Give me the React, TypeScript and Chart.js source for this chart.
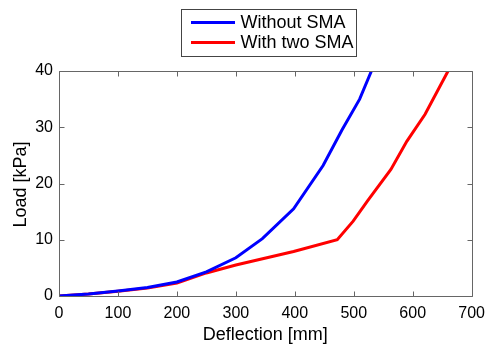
import React, { useEffect, useRef } from "react";
import { Chart, registerables } from "chart.js";
Chart.register(...registerables);

const seriesNames = ["Without SMA", "With two SMA"];
const seriesColors = ["#0000FF", "#FF0000"];
const withoutX = [0, 50, 100, 150, 200, 250, 300, 345, 398, 448, 480, 510, 530];
const withoutY = [0, 0.35, 0.9, 1.5, 2.5, 4.3, 6.8, 10.2, 15.5, 23.2, 29.5, 35, 40];
const withX = [0, 50, 100, 150, 200, 250, 300, 398, 472, 499, 524, 563, 590, 621, 660];
const withY = [0, 0.35, 0.85, 1.4, 2.3, 4.1, 5.5, 7.9, 10, 13.3, 17, 22.5, 27.5, 32.3, 40];
const xTicks = [0, 100, 200, 300, 400, 500, 600, 700];
const yTicks = [0, 10, 20, 30, 40];
const xTitle = "Deflection [mm]";
const yTitle = "Load [kPa]";

const FONT = "'Liberation Sans', Arial, sans-serif";

const framePlugin = {
  id: "frame",
  afterDraw(chart: any) {
    const { ctx, chartArea } = chart;
    const { left, right, top, bottom } = chartArea;
    const xs = chart.scales.x;
    const ys = chart.scales.y;
    ctx.save();
    ctx.strokeStyle = "#666666";
    ctx.lineWidth = 1;
    const L = Math.round(left) + 0.5;
    const R = Math.round(right) + 0.5;
    const T = Math.round(top) + 0.5;
    const B = Math.round(bottom) + 0.5;
    ctx.beginPath();
    ctx.rect(L, T, R - L, B - T);
    ctx.stroke();
    ctx.beginPath();
    xTicks.forEach((v) => {
      const p = Math.round(xs.getPixelForValue(v)) + 0.5;
      ctx.moveTo(p, B);
      ctx.lineTo(p, B - 5);
      ctx.moveTo(p, T);
      ctx.lineTo(p, T + 5);
    });
    yTicks.forEach((v) => {
      const p = Math.round(ys.getPixelForValue(v)) + 0.5;
      ctx.moveTo(L, p);
      ctx.lineTo(L + 5, p);
      ctx.moveTo(R, p);
      ctx.lineTo(R - 5, p);
    });
    ctx.stroke();

    // axis titles
    ctx.fillStyle = "#000000";
    ctx.font = `18px ${FONT}`;
    ctx.textAlign = "center";
    ctx.textBaseline = "alphabetic";
    ctx.fillText(xTitle, (left + right) / 2, 340);
    ctx.save();
    ctx.translate(25.5, (top + bottom) / 2 + 1);
    ctx.rotate(-Math.PI / 2);
    ctx.fillText(yTitle, 0, 0);
    ctx.restore();

    // legend
    const bx = 181.5, by = 9.5, bw = 175, bh = 47;
    ctx.fillStyle = "#ffffff";
    ctx.fillRect(bx, by, bw, bh);
    ctx.strokeStyle = "#444444";
    ctx.lineWidth = 1;
    ctx.strokeRect(bx, by, bw, bh);
    ctx.font = `18px ${FONT}`;
    ctx.textBaseline = "alphabetic";
    ctx.textAlign = "left";
    const lineY = [22.5, 42.5];
    const textY = [28, 48.3];
    seriesNames.forEach((name, i) => {
      ctx.strokeStyle = seriesColors[i];
      ctx.lineWidth = 3;
      ctx.beginPath();
      ctx.moveTo(191, lineY[i]);
      ctx.lineTo(235, lineY[i]);
      ctx.stroke();
      ctx.fillStyle = "#000000";
      ctx.fillText(name, 240.5, textY[i]);
    });
    ctx.restore();
  },
};

export default function App() {
  const ref = useRef<HTMLCanvasElement | null>(null);
  useEffect(() => {
    if (!ref.current) return;
    const chart = new Chart(ref.current, {
      type: "line",
      data: {
        datasets: [
          {
            label: seriesNames[0],
            data: withoutX.map((x, i) => ({ x, y: withoutY[i] })),
            borderColor: seriesColors[0],
            borderWidth: 3,
            pointRadius: 0,
            tension: 0,
            fill: false,
          },
          {
            label: seriesNames[1],
            data: withX.map((x, i) => ({ x, y: withY[i] })),
            borderColor: seriesColors[1],
            borderWidth: 3,
            pointRadius: 0,
            tension: 0,
            fill: false,
          },
        ],
      },
      options: {
        animation: false,
        responsive: false,
        devicePixelRatio: 1,
        layout: { padding: { left: 0, right: 14, top: 71, bottom: 0 } },
        plugins: { legend: { display: false }, tooltip: { enabled: false } },
        scales: {
          x: {
            type: "linear",
            min: 0,
            max: 700,
            afterBuildTicks: (s: any) => {
              s.ticks = xTicks.map((value) => ({ value }));
            },
            grid: { display: false, drawTicks: false },
            border: { display: false },
            ticks: {
              color: "#000",
              font: { family: FONT, size: 16 },
              padding: 8,
              maxRotation: 0,
              autoSkip: false,
            },
            afterFit: (s: any) => {
              s.height = 50;
            },
          },
          y: {
            type: "linear",
            min: 0,
            max: 40,
            afterBuildTicks: (s: any) => {
              s.ticks = yTicks.map((value) => ({ value }));
            },
            grid: { display: false, drawTicks: false },
            border: { display: false },
            ticks: {
              color: "#000",
              font: { family: FONT, size: 16 },
              padding: 6,
              autoSkip: false,
            },
            afterFit: (s: any) => {
              s.width = 59;
            },
          },
        },
      },
      plugins: [framePlugin],
    } as any);
    return () => chart.destroy();
  }, []);
  return (
    <div style={{ position: "fixed", left: 0, top: 0, width: 493, height: 346, background: "#fff" }}>
      <canvas ref={ref} width={493} height={346} style={{ display: "block" }} />
    </div>
  );
}
